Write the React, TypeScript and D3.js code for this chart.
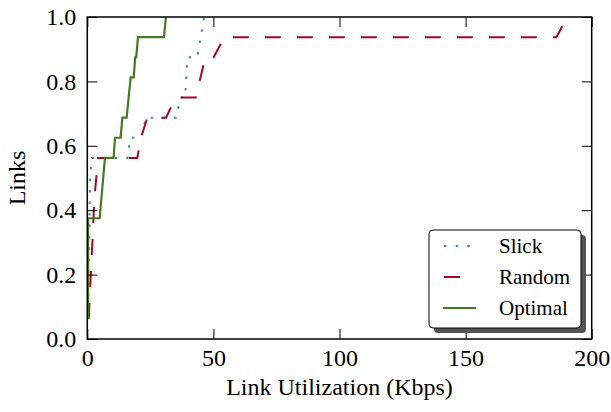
import React, { useEffect, useRef } from "react";
import * as d3 from "d3";

// CDF of link utilization (16 links => steps of 1/16)
const slickX = [0.2, 0.9, 1.1, 1.8, 15.9, 17.1, 21.3, 23.3, 35.2, 37.0, 38.8, 39.7, 43.6, 46.3];
const slickY = [0.0625, 0.375, 0.5, 0.5625, 0.5625, 0.625, 0.625, 0.6875, 0.6875, 0.75, 0.75, 0.875, 0.875, 1.0];

const randomX = [0.6, 0.9, 2.1, 2.8, 4.3, 19.8, 21.3, 23.8, 31.2, 35.1, 43.0, 46.8, 50.1, 54.3, 186.0, 190.3];
const randomY = [0.0625, 0.125, 0.3125, 0.4375, 0.5625, 0.5625, 0.625, 0.6875, 0.6875, 0.75, 0.75, 0.875, 0.875, 0.9375, 0.9375, 1.0];

const optimalX = [0.3, 0.3, 4.9, 7.0, 10.4, 11.0, 13.2, 13.9, 15.6, 17.2, 18.4, 19.0, 19.4, 20.1, 30.4, 31.2];
const optimalY = [0.0625, 0.375, 0.375, 0.5625, 0.5625, 0.625, 0.625, 0.6875, 0.6875, 0.8125, 0.8125, 0.875, 0.875, 0.9375, 0.9375, 1.0];

const xTicks = [0, 50, 100, 150, 200];
const yTicks = [0.0, 0.2, 0.4, 0.6, 0.8, 1.0];
const seriesNames = ["Slick", "Random", "Optimal"];
const seriesColors = ["#348ABD", "#A60628", "#467821"];
const seriesDash = ["2.5,9", "16,16", null];

export default function App() {
  const ref = useRef<SVGSVGElement>(null);

  useEffect(() => {
    const W = 611, H = 412;
    const margin = { top: 17, right: 19.3, bottom: 73, left: 87.3 };
    const font = "'Liberation Serif', 'Times New Roman', Times, serif";

    const svg = d3.select(ref.current);
    svg.selectAll("*").remove();

    const x = d3.scaleLinear().domain([0, 200]).range([margin.left, W - margin.right]);
    const y = d3.scaleLinear().domain([0, 1]).range([H - margin.bottom, margin.top]);

    svg.append("rect").attr("width", W).attr("height", H).attr("fill", "white");

    svg.append("clipPath").attr("id", "plotclip")
      .append("rect")
      .attr("x", x(0)).attr("y", y(1))
      .attr("width", x(200) - x(0)).attr("height", y(0) - y(1));

    // series
    const data = [
      slickX.map((v, i) => [v, slickY[i]]),
      randomX.map((v, i) => [v, randomY[i]]),
      optimalX.map((v, i) => [v, optimalY[i]]),
    ];
    const line = d3.line<number[]>().x(d => x(d[0])).y(d => y(d[1]));
    const lines = svg.append("g").attr("clip-path", "url(#plotclip)");
    data.forEach((d, i) => {
      lines.append("path")
        .datum(d)
        .attr("d", line)
        .attr("fill", "none")
        .attr("stroke", seriesColors[i])
        .attr("stroke-width", i === 2 ? 2.2 : 2)
        .attr("stroke-dasharray", seriesDash[i]);
    });

    // axes with inward ticks on all four sides
    const styleAxis = (g: any) => {
      g.select(".domain").remove();
      g.selectAll("line").attr("stroke", "black").attr("stroke-width", 1);
      g.selectAll("text").style("font-family", font).style("font-size", "24px").attr("fill", "black");
    };
    svg.append("g")
      .attr("transform", `translate(0,${y(0)})`)
      .call(d3.axisBottom(x).tickValues(xTicks).tickSizeInner(-10).tickSizeOuter(0).tickPadding(10).tickFormat(d3.format("d")))
      .call(styleAxis);
    svg.append("g")
      .attr("transform", `translate(0,${y(1)})`)
      .call(d3.axisTop(x).tickValues(xTicks).tickSizeInner(-10).tickSizeOuter(0).tickFormat(() => ""))
      .call(styleAxis);
    svg.append("g")
      .attr("transform", `translate(${x(0)},0)`)
      .call(d3.axisLeft(y).tickValues(yTicks).tickSizeInner(-10).tickSizeOuter(0).tickPadding(11).tickFormat(d3.format(".1f")))
      .call(styleAxis);
    svg.append("g")
      .attr("transform", `translate(${x(200)},0)`)
      .call(d3.axisRight(y).tickValues(yTicks).tickSizeInner(-10).tickSizeOuter(0).tickFormat(() => ""))
      .call(styleAxis);

    // frame
    svg.append("rect")
      .attr("x", x(0)).attr("y", y(1))
      .attr("width", x(200) - x(0)).attr("height", y(0) - y(1))
      .attr("fill", "none").attr("stroke", "black").attr("stroke-width", 1.5);

    // axis labels
    svg.append("text")
      .attr("x", (x(0) + x(200)) / 2).attr("y", 395)
      .attr("text-anchor", "middle")
      .style("font-family", font).style("font-size", "24px")
      .text("Link Utilization (Kbps)");
    svg.append("text")
      .attr("transform", `translate(25,${(y(0) + y(1)) / 2}) rotate(-90)`)
      .attr("text-anchor", "middle")
      .style("font-family", font).style("font-size", "24px")
      .text("Links");

    // legend
    const lx = 429, ly = 230, lw = 152, lh = 98;
    const leg = svg.append("g");
    leg.append("rect").attr("x", lx + 5).attr("y", ly + 5).attr("width", lw).attr("height", lh)
      .attr("rx", 4).attr("fill", "#555555");
    leg.append("rect").attr("x", lx).attr("y", ly).attr("width", lw).attr("height", lh)
      .attr("rx", 4).attr("fill", "white").attr("stroke", "black").attr("stroke-width", 1);
    seriesNames.forEach((name, i) => {
      const ry = 246 + i * 31;
      leg.append("line")
        .attr("x1", i === 2 ? 443 : 444).attr("x2", i === 1 ? 472 : 476).attr("y1", ry).attr("y2", ry)
        .attr("stroke", seriesColors[i]).attr("stroke-width", 2)
        .attr("stroke-dasharray", i === 0 ? "2.5,9.2" : seriesDash[i]);
      leg.append("text")
        .attr("x", 499).attr("y", ry).attr("dy", "0.35em")
        .style("font-family", font).style("font-size", "21px")
        .text(name);
    });
  }, []);

  return <svg ref={ref} width={611} height={412} style={{ position: "absolute", left: 0, top: 0 }} />;
}
